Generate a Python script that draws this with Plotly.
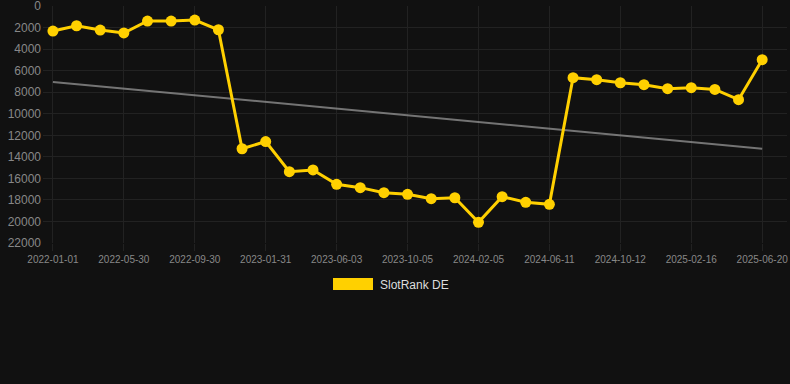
import numpy as np
import plotly.graph_objects as go

dates = [
    "2022-01-01", "2022-02-19", "2022-04-09", "2022-05-30", "2022-07-10", "2022-08-20",
    "2022-09-30", "2022-11-10", "2022-12-21", "2023-01-31", "2023-03-13", "2023-04-23",
    "2023-06-03", "2023-07-14", "2023-08-25", "2023-10-05", "2023-11-15", "2023-12-26",
    "2024-02-05", "2024-03-18", "2024-04-30", "2024-06-11", "2024-07-22", "2024-09-01",
    "2024-10-12", "2024-11-23", "2025-01-05", "2025-02-16", "2025-03-29", "2025-05-09",
    "2025-06-20",
]
rank_de = [
    2320, 1830, 2230, 2500, 1390, 1390, 1300, 2200, 13250, 12580, 15380, 15220,
    16550, 16860, 17330, 17480, 17880, 17800, 20080, 17700, 18220, 18410,
    6650, 6840, 7120, 7300, 7670, 7580, 7740, 8690, 4980,
]
series_name = "SlotRank DE"
tick_labels = dates[::3]
y_ticks = list(range(0, 22001, 2000))

idx = np.arange(len(rank_de))
slope, intercept = np.polyfit(idx, np.array(rank_de, dtype=float), 1)
trend = (slope * idx + intercept).tolist()

fig = go.Figure()
fig.add_trace(go.Scatter(
    x=dates, y=trend, mode="lines",
    line=dict(color="rgba(150,150,150,0.75)", width=2),
    showlegend=False, hoverinfo="skip",
))
fig.add_trace(go.Scatter(
    x=dates, y=rank_de, mode="lines+markers", name=series_name,
    line=dict(color="#FFD000", width=3),
    marker=dict(color="#FFD000", size=11),
    showlegend=False,
))

# Legend drawn as a filled box + label (paper coords below the plot area)
W, H = 790, 384
L, R, T, B = 43, 3, 6, 141
pw, ph = W - L - R, H - T - B
def px(x):
    return (x - L) / pw
def py(y):
    return (H - B - y) / ph

fig.add_shape(type="rect", xref="paper", yref="paper",
              x0=px(333), x1=px(373), y0=py(290), y1=py(278),
              fillcolor="#FFD000", line=dict(width=0))
fig.add_annotation(xref="paper", yref="paper", x=px(378), y=py(284.5),
                   text=series_name, showarrow=False, xanchor="left", yanchor="middle",
                   font=dict(size=12, color="#dddddd"))

grid = "#222222"
fig.update_layout(
    width=W, height=H,
    paper_bgcolor="#111111", plot_bgcolor="#111111",
    margin=dict(l=L, r=R, t=T, b=B, autoexpand=False),
    font=dict(family="Liberation Sans, Arial, sans-serif", color="#888888"),
    showlegend=False,
    xaxis=dict(
        type="category",
        categoryorder="array", categoryarray=dates,
        range=[-0.42, 31.05],
        tickmode="array", tickvals=tick_labels, ticktext=tick_labels,
        showgrid=True, gridcolor=grid, gridwidth=1,
        zeroline=False, showline=False,
        ticks="outside", ticklen=7, tickcolor=grid,
        tickfont=dict(size=10, color="#888888"),
        ticklabeloverflow="allow", automargin=False,
    ),
    yaxis=dict(
        range=[22000, -5],
        tickmode="array", tickvals=y_ticks, ticktext=[str(v) for v in y_ticks],
        showgrid=True, gridcolor=grid, gridwidth=1,
        zeroline=False, showline=False,
        ticks="", ticklabelstandoff=1,
        tickfont=dict(size=12, color="#888888"),
        ticklabeloverflow="allow", automargin=False,
    ),
)

fig.write_html(
    "out.html",
    config={"displayModeBar": False},
    post_script="document.body.style.margin='0';document.body.style.background='#111111';document.body.style.overflow='hidden';",
)
